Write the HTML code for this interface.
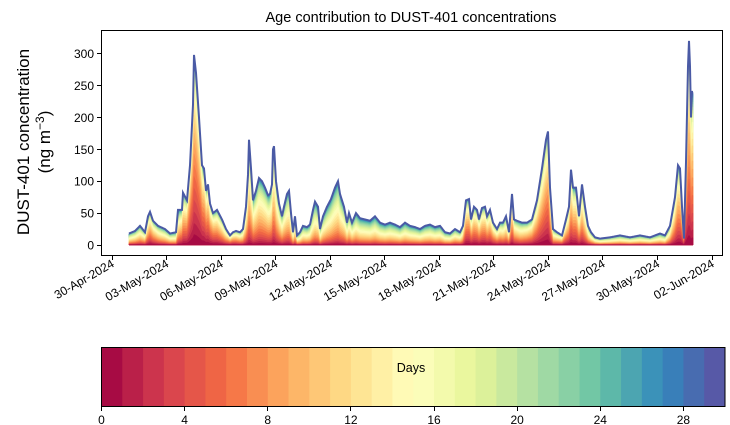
<!DOCTYPE html>
<html><head><meta charset="utf-8"><style>
html,body{margin:0;padding:0;background:#fff;}
#wrap{position:relative;width:730px;height:425px;overflow:hidden;}
svg{display:block;font-family:"Liberation Sans","DejaVu Sans",sans-serif;}
.d{position:absolute;background:#000;}
</style></head><body>
<div id="wrap">
<svg id="s" width="730" height="425" xmlns="http://www.w3.org/2000/svg">
<text x="411" y="22" font-size="14.5" text-anchor="middle" fill="#000">Age contribution to DUST-401 concentrations</text>
<g id="areas"></g>
<path d="M101.5,30.5 H722.5 V255.5 H101.5 Z" fill="none" stroke="#000" stroke-width="1"/>
<g id="ax" font-size="12" fill="#000"></g>
<text transform="translate(29,142) rotate(-90)" font-size="17" text-anchor="middle">DUST-401 concentration</text>
<text transform="translate(50,142) rotate(-90)" font-size="17" text-anchor="middle">(ng m<tspan dy="-6" font-size="12">−3</tspan><tspan dy="6">)</tspan></text>
<g id="cb"></g>
</svg>
<div class="d" style="left:101px;top:30px;width:1px;height:226px"></div>
<div class="d" style="left:722px;top:30px;width:1px;height:226px"></div>
<div class="d" style="left:101px;top:30px;width:622px;height:1px"></div>
<div class="d" style="left:101px;top:255px;width:622px;height:1px"></div>
</div>
<script>
const NS="http://www.w3.org/2000/svg";
function el(t,a,p){const e=document.createElementNS(NS,t);for(const k in a)e.setAttribute(k,a[k]);if(p)p.appendChild(e);return e;}
const wrap=document.getElementById("wrap");
function dv(x,y,w,h){const e=document.createElement("div");e.className="d";e.style.left=x+"px";e.style.top=y+"px";e.style.width=w+"px";e.style.height=h+"px";wrap.appendChild(e);}
const stops=["#9e0142","#d53e4f","#f46d43","#fdae61","#fee08b","#ffffbf","#e6f598","#abdda4","#66c2a5","#3288bd","#5e4fa2"];
function hx(h){return [1,3,5].map(i=>parseInt(h.substr(i,2),16));}
function spec(t){const f=t*10,i=Math.min(9,Math.floor(f)),r=f-i;const a=hx(stops[i]),b=hx(stops[i+1]);return "rgb("+a.map((v,k)=>Math.round(v+(b[k]-v)*r)).join(",")+")";}
const cols=[];for(let i=0;i<30;i++)cols.push(spec((i+0.5)/30));
const K=[[129,18],[135,22],[140,30],[145,20],[148,45],[150,52],[153,38],[158,30],[165,25],[170,18],[176,20],[178,55],[182,55],[183,82],[187,70],[190,125],[193,220],[194,298],[196,270],[199,200],[202,125],[204,120],[206,85],[208,95],[210,65],[213,50],[217,55],[222,40],[226,25],[230,15],[233,20],[236,22],[240,20],[243,25],[246,60],[248,110],[249,165],[251,120],[253,70],[256,85],[259,105],[262,100],[265,90],[268,78],[270,80],[272,95],[273,150],[274,155],[276,100],[279,65],[282,45],[284,60],[287,80],[289,85],[291,50],[293,20],[295,45],[297,15],[300,20],[303,30],[307,28],[310,32],[313,55],[315,68],[318,60],[320,25],[323,45],[327,60],[331,72],[335,90],[338,100],[340,80],[344,60],[347,35],[349,50],[352,35],[356,50],[360,42],[365,40],[370,38],[375,45],[380,35],[385,32],[390,35],[395,32],[400,28],[405,35],[410,30],[415,28],[420,25],[425,30],[430,32],[435,28],[440,30],[445,20],[450,18],[455,25],[460,20],[463,30],[466,70],[469,72],[471,40],[474,60],[477,55],[479,40],[482,58],[485,60],[487,45],[490,55],[493,35],[497,25],[500,35],[503,35],[506,45],[509,20],[512,80],[514,40],[517,38],[522,35],[527,35],[532,40],[537,70],[542,120],[546,165],[548,178],[550,90],[553,25],[557,20],[562,15],[566,40],[569,60],[571,118],[573,90],[576,90],[579,45],[582,95],[585,60],[588,30],[591,20],[595,12],[600,10],[610,12],[620,15],[630,12],[640,15],[650,12],[660,18],[665,15],[670,30],[675,75],[678,125],[680,120],[682,60],[684,10],[686,130],[688,280],[689,320],[690,280],[691,200],[692,240],[693,240]];
const M=[[129,14],[145,12],[150,8],[160,12],[176,15],[180,10],[190,5],[200,4],[210,6],[225,10],[232,8],[245,12],[255,11],[275,11],[290,13],[300,15],[330,14],[345,13],[360,15],[445,15],[462,13],[466,7],[490,8],[505,12],[512,9],[520,12],[535,8],[548,6],[553,12],[565,9],[575,8],[590,13],[600,15],[665,15],[676,8],[684,7],[689,6],[693,6]];
function interp(A,x){for(let i=0;i<A.length-1;i++){if(x<=A[i+1][0]){const r=(x-A[i][0])/(A[i+1][0]-A[i][0]);return A[i][1]+(A[i+1][1]-A[i][1])*r;}}return A[A.length-1][1];}
function L(a,m,w){return 1/(1+Math.exp(-(a-m)/w));}
function C(a,m){const w=6;return (L(a,m,w)-L(0,m,w))/(L(30,m,w)-L(0,m,w));}
const y0=245,sc=0.6378;const xs=[];for(let x=129;x<=693;x+=0.5)xs.push(x);
const g=document.getElementById("areas");
for(let k=29;k>=0;k--){let d="M129,"+y0;for(const x of xs){const v=interp(K,x),m=interp(M,x);const c=C(k+1,m);d+=" L"+x+","+(y0-v*c*sc).toFixed(2);}d+=" L693,"+y0+" Z";el("path",{d:d,fill:cols[k],stroke:cols[k],"stroke-width":0.4},g);}
let d="";xs.forEach((x,i)=>{d+=(i?" L":"M")+x+","+(y0-interp(K,x)*sc).toFixed(2);});
el("path",{d:d,fill:"none",stroke:"#4a5aa5","stroke-width":2},g);
const ax=document.getElementById("ax");
for(let v=0;v<=300;v+=50){const y=y0-v*sc;dv(97,Math.round(y-0.5),4,1);const t=el("text",{x:94,y:y+4.5,"text-anchor":"end"},ax);t.textContent=v;}
const labs=["30-Apr-2024","03-May-2024","06-May-2024","09-May-2024","12-May-2024","15-May-2024","18-May-2024","21-May-2024","24-May-2024","27-May-2024","30-May-2024","02-Jun-2024"];
labs.forEach((l,i)=>{const x=112+i*54.55;dv(Math.round(x-0.5),256,1,4);const t=el("text",{x:x+3,y:266,"text-anchor":"end",transform:"rotate(-30 "+(x+3)+" 266)"},ax);t.textContent=l;});
const cb=document.getElementById("cb");const cx0=101.5,cw=623.5/30;
for(let i=0;i<30;i++)el("rect",{x:cx0+i*cw,y:347.5,width:cw+0.5,height:59,fill:cols[i]},cb);
el("rect",{x:cx0,y:347.5,width:623.5,height:59,fill:"none",stroke:"#000"},cb);
const dt=el("text",{x:411,y:372,"font-size":12.5,"text-anchor":"middle"},cb);dt.textContent="Days";
for(let v=0;v<=28;v+=4){const x=cx0+v*cw;dv(Math.round(x-0.5),407,1,4);const t=el("text",{x:x,y:424,"font-size":12,"text-anchor":"middle"},cb);t.textContent=v;}
</script>
</body></html>
